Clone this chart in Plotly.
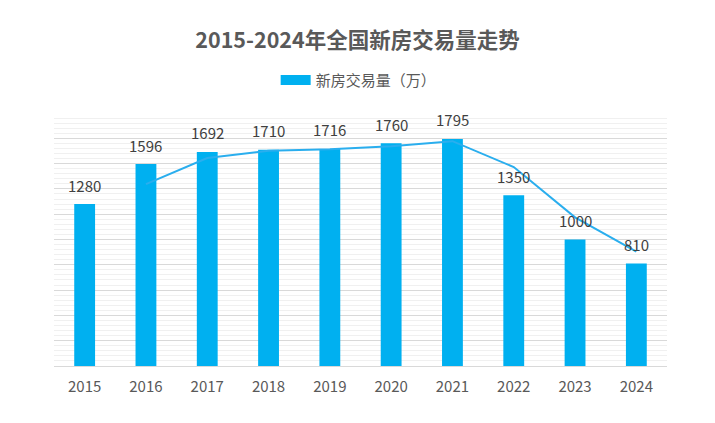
import plotly.graph_objects as go

years = ["2015", "2016", "2017", "2018", "2019", "2020", "2021", "2022", "2023", "2024"]
volume = [1280, 1596, 1692, 1710, 1716, 1760, 1795, 1350, 1000, 810]
trend_years = ["2016", "2017", "2018", "2019", "2020", "2021", "2022", "2023", "2024"]
trend_values = [1438, 1644, 1701, 1713, 1738, 1777.5, 1572.5, 1175, 905]
series_name = "新房交易量（万）"

FONT = "Noto Sans CJK SC"
BAR = "#00B0F0"

xi = list(range(len(years)))
txi = [years.index(y) for y in trend_years]

fig = go.Figure()
fig.add_trace(go.Bar(
    x=xi, y=volume, name=series_name,
    marker=dict(color=BAR, line=dict(width=0)),
    width=0.34, showlegend=False, hoverinfo="y",
))
fig.add_trace(go.Scatter(
    x=txi, y=trend_values, mode="lines",
    line=dict(color="#2AAEEE", width=2),
    showlegend=False, hoverinfo="skip",
))
# legend entry (wide rectangle swatch)
fig.add_trace(go.Scatter(
    x=[None], y=[None], mode="lines", name=series_name,
    line=dict(color=BAR, width=10), showlegend=True,
))

for x, v in zip(xi, volume):
    fig.add_annotation(x=x, y=v, text=str(v), showarrow=False, yshift=19,
                       font=dict(family=FONT, size=15, color="#404040"))

fig.update_layout(
    width=715, height=423,
    margin=dict(l=54, r=48, t=113, b=57, autoexpand=False),
    paper_bgcolor="white", plot_bgcolor="white",
    font=dict(family=FONT, color="#595959"),
    title=dict(text="<b>2015-2024年全国新房交易量走势</b>", x=0.5, xanchor="center",
               y=0.905, yanchor="middle",
               font=dict(family=FONT, size=21.5, color="#595959")),
    legend=dict(orientation="h", x=0.497, xanchor="center", y=0.81, yanchor="middle",
                yref="container", itemwidth=30,
                font=dict(family=FONT, size=15, color="#595959"),
                bgcolor="rgba(0,0,0,0)"),
    xaxis=dict(range=[-0.5, len(years) - 0.5], tickmode="array", tickvals=xi, ticktext=years,
               showline=True, linecolor="#d9d9d9", linewidth=1, showgrid=False, zeroline=False,
               ticks="", ticklabelstandoff=7,
               tickfont=dict(family=FONT, size=15, color="#595959")),
    yaxis=dict(range=[0, 2000], dtick=200, showticklabels=False, showgrid=True,
               gridcolor="#d9d9d9", gridwidth=1, zeroline=False,
               minor=dict(dtick=40, showgrid=True, gridcolor="#f0f0f0", gridwidth=1)),
)

fig.write_html("out.html", config={"displayModeBar": False},
               post_script="document.body.style.margin='0px';")
